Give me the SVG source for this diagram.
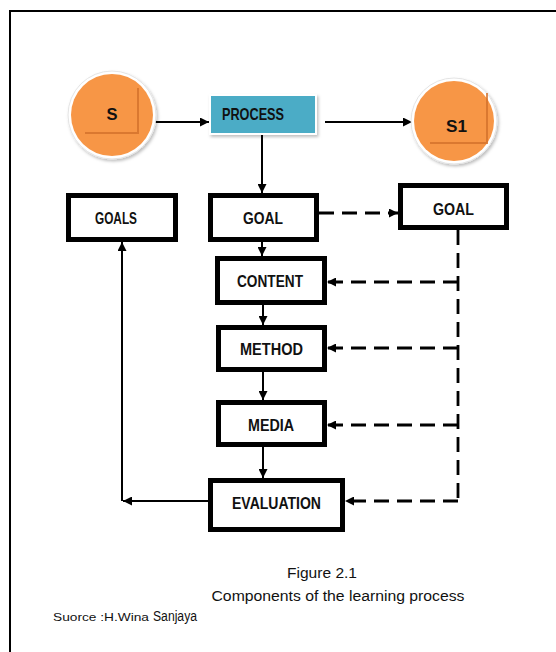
<svg xmlns="http://www.w3.org/2000/svg" width="556" height="652" viewBox="0 0 556 652">
<style>
.box{fill:#fff;stroke:#000;stroke-width:5}
.lbl{font-family:"Liberation Sans",Arial,sans-serif;font-weight:bold;font-size:16.5px;fill:#111}
.cap{font-family:"Liberation Sans",Arial,sans-serif;font-size:14px;fill:#111}
.solid{fill:none;stroke:#000;stroke-width:2}
.dash{fill:none;stroke:#000;stroke-width:2.8;stroke-dasharray:15 8}
.ring{fill:#fff;stroke:#e4e4e4;stroke-width:1}
.orange{fill:#f79646}
.fold{fill:none;stroke:#d2702a;stroke-width:2;opacity:0.8}
</style>
<defs>
<marker id="ah" viewBox="0 0 10 10" refX="10" refY="5" markerWidth="9" markerHeight="9" markerUnits="userSpaceOnUse" orient="auto">
<path d="M0,0 L10,5 L0,10 z" fill="#000"/>
</marker>
<filter id="sh" x="-20%" y="-20%" width="150%" height="150%">
<feDropShadow dx="1.5" dy="2" stdDeviation="1.5" flood-color="#000" flood-opacity="0.25"/>
</filter>
</defs>
<rect width="556" height="652" fill="#fff"/>
<path d="M10,652 V11 H556" fill="none" stroke="#000" stroke-width="2"/>

<g id="connectors">
<path class="solid" d="M153,122 H209" marker-end="url(#ah)"/>
<path class="solid" d="M325,122 H412" marker-end="url(#ah)"/>
<path class="solid" d="M262,135 V193" marker-end="url(#ah)"/>
<path class="solid" d="M262,242 V256" marker-end="url(#ah)"/>
<path class="solid" d="M263,305 V325" marker-end="url(#ah)"/>
<path class="solid" d="M263,372 V400" marker-end="url(#ah)"/>
<path class="solid" d="M263,447 V478" marker-end="url(#ah)"/>
<path class="solid" d="M208,501 H123" marker-end="url(#ah)"/>
<path class="solid" d="M122,501 V242" marker-end="url(#ah)"/>
<path class="dash" d="M319,213 H398" marker-end="url(#ah)"/>
<path class="dash" d="M458,230 V501"/>
<path class="dash" d="M458,282 H327" marker-end="url(#ah)"/>
<path class="dash" d="M458,348 H327" marker-end="url(#ah)"/>
<path class="dash" d="M458,425 H327" marker-end="url(#ah)"/>
<path class="dash" d="M458,501 H345" marker-end="url(#ah)"/>
</g>

<g id="node-s">
<circle class="ring" cx="112" cy="115" r="44" filter="url(#sh)"/>
<circle class="orange" cx="112" cy="115" r="41"/>
<path class="fold" d="M138,88 V133 H85"/>
<text class="lbl" x="112" y="119.5" text-anchor="middle" font-size="20" textLength="11" lengthAdjust="spacingAndGlyphs">S</text>
</g>

<g id="node-process">
<rect x="209" y="94" width="108" height="41" fill="#fff" filter="url(#sh)"/>
<rect x="211" y="96" width="104" height="37" fill="#4bacc6"/>
<text class="lbl" x="222" y="119.5" textLength="62" lengthAdjust="spacingAndGlyphs" fill="#1a1f3a">PROCESS</text>
</g>

<g id="node-s1">
<circle class="ring" cx="454" cy="121" r="43" filter="url(#sh)"/>
<circle class="orange" cx="454" cy="121" r="40"/>
<path class="fold" d="M487,93 V143 H430"/>
<text class="lbl" x="456.5" y="131.5" text-anchor="middle" font-size="18" textLength="21" lengthAdjust="spacingAndGlyphs">S1</text>
</g>

<g id="node-goals">
<rect class="box" x="68.5" y="195.5" width="107" height="44"/>
<text class="lbl" x="116" y="223.5" text-anchor="middle" textLength="42" lengthAdjust="spacingAndGlyphs">GOALS</text>
</g>

<g id="node-goal">
<rect class="box" x="210.5" y="195.5" width="106" height="44"/>
<text class="lbl" x="263" y="223.5" text-anchor="middle" textLength="40" lengthAdjust="spacingAndGlyphs">GOAL</text>
</g>

<g id="node-goal-right">
<rect class="box" x="400.5" y="185.5" width="106" height="42"/>
<text class="lbl" x="453.5" y="214.5" text-anchor="middle" textLength="41" lengthAdjust="spacingAndGlyphs">GOAL</text>
</g>

<g id="node-content">
<rect class="box" x="217.5" y="258.5" width="107" height="44"/>
<text class="lbl" x="270" y="286.5" text-anchor="middle" textLength="66" lengthAdjust="spacingAndGlyphs">CONTENT</text>
</g>

<g id="node-method">
<rect class="box" x="218.5" y="327.5" width="106" height="42"/>
<text class="lbl" x="271.5" y="354.5" text-anchor="middle" textLength="63" lengthAdjust="spacingAndGlyphs">METHOD</text>
</g>

<g id="node-media">
<rect class="box" x="218.5" y="402.5" width="106" height="42"/>
<text class="lbl" x="271" y="430.5" text-anchor="middle" textLength="46" lengthAdjust="spacingAndGlyphs">MEDIA</text>
</g>

<g id="node-evaluation">
<rect class="box" x="210.5" y="480.5" width="132" height="49"/>
<text class="lbl" x="276.5" y="508.5" text-anchor="middle" textLength="89" lengthAdjust="spacingAndGlyphs">EVALUATION</text>
</g>

<g id="caption">
<text class="cap" x="322" y="578" text-anchor="middle" textLength="70" lengthAdjust="spacingAndGlyphs">Figure  2.1</text>
<text class="cap" x="338" y="601" text-anchor="middle" textLength="253" lengthAdjust="spacingAndGlyphs">Components of the learning process</text>
<text class="cap" x="53" y="621"><tspan font-size="11" textLength="96" lengthAdjust="spacingAndGlyphs">Suorce :H.Wina</tspan><tspan dx="4" font-size="14" textLength="44" lengthAdjust="spacingAndGlyphs">Sanjaya</tspan></text>
</g>
</svg>
